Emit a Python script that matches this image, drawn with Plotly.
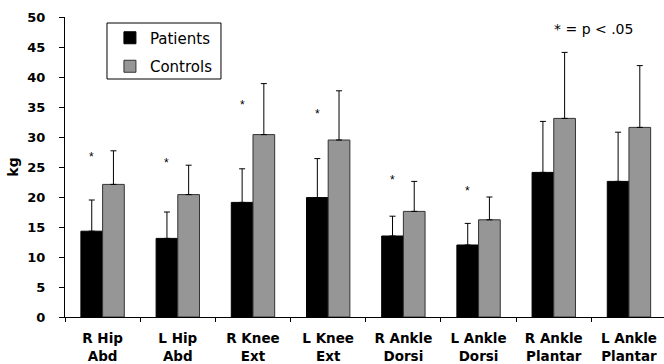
import plotly.graph_objects as go

categories = ["R Hip<br>Abd", "L Hip<br>Abd", "R Knee<br>Ext", "L Knee<br>Ext",
              "R Ankle<br>Dorsi", "L Ankle<br>Dorsi", "R Ankle<br>Plantar", "L Ankle<br>Plantar"]
patients_mean = [14.3, 13.1, 19.1, 19.9, 13.5, 12.0, 24.1, 22.6]
patients_sd = [5.2, 4.4, 5.6, 6.5, 3.3, 3.6, 8.5, 8.2]
controls_mean = [22.1, 20.4, 30.4, 29.5, 17.6, 16.2, 33.1, 31.6]
controls_sd = [5.6, 4.9, 8.5, 8.2, 5.0, 3.8, 11.0, 10.3]
# significance markers: category index and height (kg)
sig_index = [0, 1, 2, 3, 4, 5]
sig_y = [27.1, 26.1, 35.9, 34.3, 23.3, 21.5]

FONT = "DejaVu Sans"
BARGAP = 0.423

fig = go.Figure()
fig.add_trace(go.Bar(
    name="Patients", x=categories, y=patients_mean,
    marker=dict(color="#000000", line=dict(color="#000000", width=1)),
    error_y=dict(type="data", array=patients_sd, arrayminus=[0] * len(patients_sd),
                 symmetric=False, color="#000000", thickness=1, width=3),
    legendgroup="p",
))
fig.add_trace(go.Bar(
    name="Controls", x=categories, y=controls_mean,
    marker=dict(color="#969696", line=dict(color="#333333", width=1)),
    error_y=dict(type="data", array=controls_sd, arrayminus=[0] * len(controls_sd),
                 symmetric=False, color="#000000", thickness=1, width=3),
    legendgroup="c",
))

offset = (1 - BARGAP) / 4
for i, yv in zip(sig_index, sig_y):
    fig.add_annotation(x=i - offset, y=yv, xref="x", yref="y", text="*",
                       showarrow=False, yshift=-3,
                       font=dict(family="Liberation Sans", size=12, color="#000000"))

fig.add_annotation(x=0.813, y=0.959, xref="paper", yref="paper", text="* = p < .05",
                   showarrow=False, xanchor="left", yanchor="middle",
                   font=dict(family=FONT, size=14, color="#000000"))

fig.add_shape(type="rect", xref="paper", yref="paper",
              x0=0.0701, x1=0.2604, y0=0.7933, y1=0.98,
              line=dict(color="#000000", width=1), fillcolor="rgba(0,0,0,0)", layer="above")

fig.update_layout(
    width=664, height=364,
    margin=dict(l=65, r=0, t=17, b=47, pad=0),
    paper_bgcolor="white", plot_bgcolor="white",
    barmode="group", bargap=BARGAP, bargroupgap=0,
    font=dict(family=FONT, color="#000000"),
    showlegend=True,
    legend=dict(x=0.075, y=0.985, xanchor="left", yanchor="top",
                bgcolor="rgba(0,0,0,0)", borderwidth=0, tracegroupgap=6,
                font=dict(family=FONT, size=15, color="#000000"),
                traceorder="grouped", itemwidth=30),
    xaxis=dict(type="category", range=[-0.5, 7.466], showline=True, linecolor="#000000",
               linewidth=1, ticks="outside", tickson="boundaries", ticklen=4,
               tickcolor="#000000", showgrid=False, zeroline=False, tickangle=0,
               automargin=False, ticklabelstandoff=9,
               tickfont=dict(family=FONT, size=13.5, color="#000000", weight="bold")),
    yaxis=dict(range=[0, 50], dtick=5, showline=True, linecolor="#000000", linewidth=1,
               ticks="outside", ticklen=5, tickcolor="#000000", showgrid=False,
               zeroline=False, automargin=False, ticklabelstandoff=11,
               tickfont=dict(family=FONT, size=13, color="#000000", weight="bold"),
               title=dict(text="kg", standoff=5,
                          font=dict(family=FONT, size=14, color="#000000", weight="bold"))),
)

fig.write_html("out.html", config={"displayModeBar": False},
               post_script="document.body.style.margin='0';document.body.style.overflow='hidden';")
